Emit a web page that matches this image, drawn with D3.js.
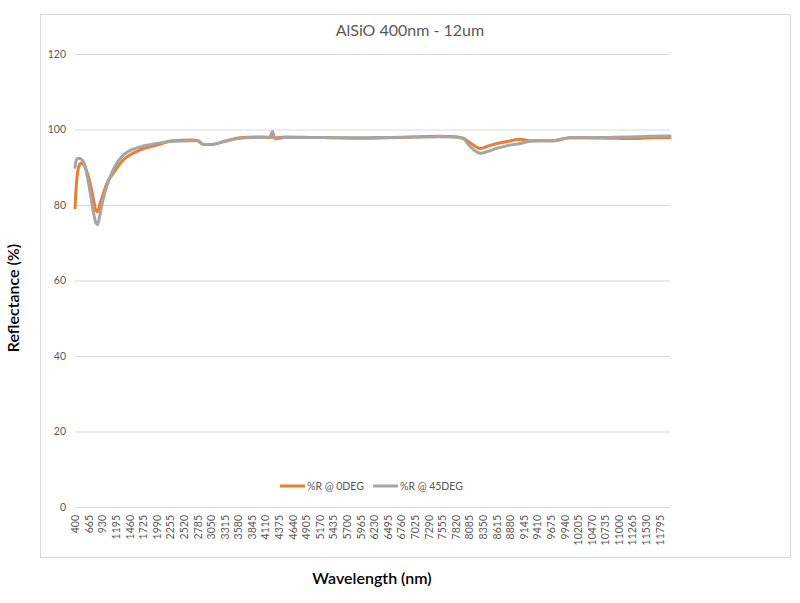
<!DOCTYPE html>
<html>
<head>
<meta charset="utf-8">
<script src="https://cdn.jsdelivr.net/npm/d3@7/dist/d3.min.js"></script>
<style>
  html, body { margin: 0; padding: 0; background: #fff; }
  svg { display: block; }
  text { font-family: Lato, "Open Sans", sans-serif; }
</style>
</head>
<body>
<svg id="chart" width="800" height="603"></svg>
<script>
// ---- data ----
const title = "AlSiO 400nm - 12um";
const xTitle = "Wavelength (nm)";
const yTitle = "Reflectance (%)";
const seriesNames = ["%R @ 0DEG", "%R @ 45DEG"];
const seriesColors = ["#ED7D31", "#A5A5A5"];

const wavelengths = [400, 430, 470, 520, 580, 640, 700, 760, 810, 840, 880, 940, 1020, 1150, 1340, 1670, 2000, 2310, 2700, 2800, 2900, 3050, 3300, 3620, 4000, 4200, 4250, 4300, 4500, 5000, 5500, 6000, 6500, 7000, 7500, 7800, 7966, 8100, 8300, 8450, 8620, 8850, 9080, 9270, 9470, 9720, 10050, 10400, 10800, 11200, 11600, 12000];
const r0deg = [79.2, 86.0, 90.0, 91.1, 90.5, 88.5, 85.5, 81.5, 78.5, 78.2, 80.0, 82.5, 85.7, 88.5, 91.9, 94.6, 95.9, 97.0, 97.2, 97.0, 96.0, 96.0, 96.8, 97.8, 98.0, 97.9, 98.0, 97.8, 98.0, 97.9, 97.8, 97.7, 97.8, 98.0, 98.2, 98.1, 97.7, 96.5, 95.0, 95.6, 96.3, 96.9, 97.4, 97.0, 97.0, 97.0, 97.8, 97.8, 97.7, 97.6, 97.8, 97.9];
const r45deg = [90.0, 92.0, 92.4, 92.2, 91.0, 87.5, 83.0, 78.0, 75.2, 74.8, 77.0, 81.0, 85.0, 89.5, 93.2, 95.4, 96.3, 96.9, 97.0, 97.0, 96.1, 96.0, 96.8, 97.7, 97.9, 98.0, 99.5, 97.5, 97.9, 97.9, 97.8, 97.8, 97.9, 98.0, 98.1, 98.0, 97.6, 95.5, 93.7, 94.2, 95.0, 95.8, 96.3, 96.9, 97.0, 97.0, 97.8, 97.8, 97.9, 98.0, 98.2, 98.3];

const xTickLabels = [400, 665, 930, 1195, 1460, 1725, 1990, 2255, 2520, 2785, 3050, 3315, 3580, 3845, 4110, 4375, 4640, 4905, 5170, 5435, 5700, 5965, 6230, 6495, 6760, 7025, 7290, 7555, 7820, 8085, 8350, 8615, 8880, 9145, 9410, 9675, 9940, 10205, 10470, 10735, 11000, 11265, 11530, 11795];
const yTicks = [0, 20, 40, 60, 80, 100, 120];

// ---- layout ----
const svg = d3.select("#chart");
const plot = { left: 75, right: 670, top: 54, bottom: 507 };

svg.append("rect")
  .attr("x", 40.5).attr("y", 14.5).attr("width", 750).attr("height", 543)
  .attr("fill", "#fff").attr("stroke", "#d9d9d9").attr("stroke-width", 1);

const x = d3.scaleLinear().domain([400, 12000]).range([plot.left, plot.right]);
const y = d3.scaleLinear().domain([0, 120]).range([plot.bottom, plot.top]);

// gridlines + y labels
const yAxis = d3.axisLeft(y).tickValues(yTicks).tickSize(-(plot.right - plot.left)).tickPadding(9);
const gy = svg.append("g").attr("transform", `translate(${plot.left},0)`).call(yAxis);
gy.select(".domain").remove();
gy.selectAll(".tick line").attr("stroke", "#d9d9d9").attr("stroke-width", 1);
gy.selectAll(".tick text").attr("fill", "#595959").style("font-size", "10.5px").style("font-family", "Lato, sans-serif");

// x axis
const xAxis = d3.axisBottom(x).tickValues(xTickLabels).tickSize(0).tickPadding(0).tickFormat(d3.format("d"));
const gx = svg.append("g").attr("transform", `translate(0,${plot.bottom})`).call(xAxis);
gx.select(".domain").attr("stroke", "#d9d9d9").attr("d", `M${plot.left},0.5H${plot.right}`);
gx.selectAll(".tick text")
  .attr("fill", "#595959")
  .style("font-size", "10.5px").style("font-family", "Lato, sans-serif")
  .attr("text-anchor", "end")
  .attr("transform", "translate(0,8) rotate(-90)")
  .attr("x", 0).attr("y", 0).attr("dy", "0.35em");

// lines
const rows = [r0deg, r45deg];
const line = d3.line()
  .x((d, i) => x(wavelengths[i]))
  .y(d => y(d))
  .curve(d3.curveMonotoneX);
rows.forEach((vals, k) => {
  svg.append("path")
    .datum(vals)
    .attr("fill", "none")
    .attr("stroke", seriesColors[k])
    .attr("stroke-width", 3)
    .attr("stroke-linejoin", "round")
    .attr("stroke-linecap", "round")
    .attr("d", line);
});

// title
svg.append("text").attr("x", 410).attr("y", 36).attr("text-anchor", "middle")
  .attr("fill", "#595959").style("font-size", "16px").text(title);

// axis titles
svg.append("text").attr("x", 372).attr("y", 584).attr("text-anchor", "middle")
  .attr("fill", "#000").style("font-size", "16px").style("font-weight", "600").text(xTitle);
svg.append("text").attr("transform", "translate(19,298) rotate(-90)").attr("text-anchor", "middle")
  .attr("fill", "#000").style("font-size", "16px").style("font-weight", "600").text(yTitle);

// legend
const legendX = [280, 373];
seriesNames.forEach((name, k) => {
  const g = svg.append("g").attr("transform", `translate(${legendX[k]},486)`);
  g.append("line").attr("x1", 0).attr("x2", 25).attr("y1", 0).attr("y2", 0)
    .attr("stroke", seriesColors[k]).attr("stroke-width", 3);
  g.append("text").attr("x", 27).attr("y", 0).attr("dy", "0.35em")
    .attr("fill", "#595959").style("font-size", "10.5px").text(name);
});
</script>
</body>
</html>
